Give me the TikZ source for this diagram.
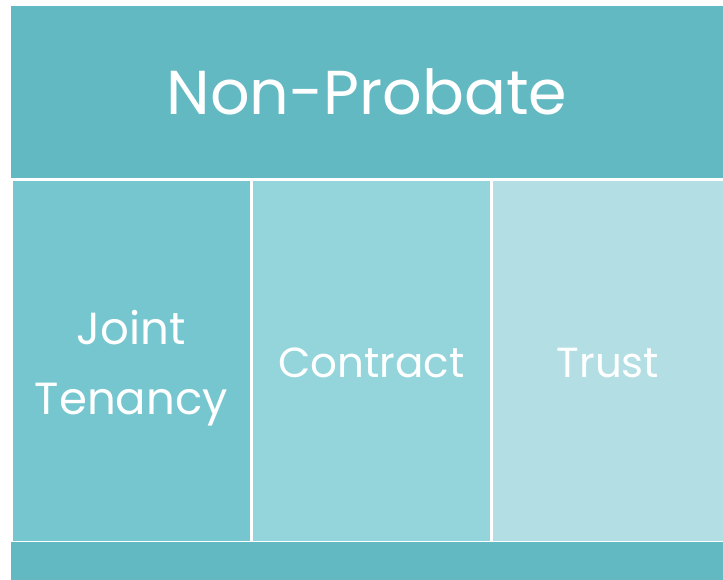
\documentclass[tikz,border=0pt]{standalone}
\usepackage{fontspec}
\setmainfont{Poppins}
\definecolor{bandteal}{HTML}{62B9C2}
\definecolor{colone}{HTML}{75C6CF}
\definecolor{coltwo}{HTML}{94D5DB}
\definecolor{colthree}{HTML}{B3DFE4}
\begin{document}
\begin{tikzpicture} [
                x=1pt, y=1pt,
                band/.style={rectangle,fill=bandteal,draw=none,minimum width=712pt,inner sep=0pt,
                    text=white,font=\fontsize{62}{70}\selectfont},
                column/.style={rectangle,draw=none,minimum height=359.7pt,inner sep=0pt},
                column text/.style={text=white,align=center,font=\fontsize{#1}{70}\selectfont},
            ]
            \useasboundingbox[fill=white] (0,0) rectangle (723,580);
            \node[band,minimum height=172pt] (title) at (367,488) {Non-Probate};
            \foreach \pos/\colwidth/\shade/\name/\size/\dy/\txt in {
                    {(131.25,219.15)/237.5/colone/joint/45/-7/{Joint\\Tenancy}},
                    {(371.35,219.15)/237.3/coltwo/contract/42/-2/Contract},
                    {(607.85,219.15)/230.3/colthree/trust/42/-2/Trust}}
                {
                \node[column,fill=\shade,minimum width=\colwidth pt] (\name) at \pos {};
                \node[column text=\size,yshift=\dy pt] (\name-text) at (\name) {\txt};
                }
            \node[band,minimum height=38pt] (base) at (367,19) {};
        \end{tikzpicture}
\end{document}
